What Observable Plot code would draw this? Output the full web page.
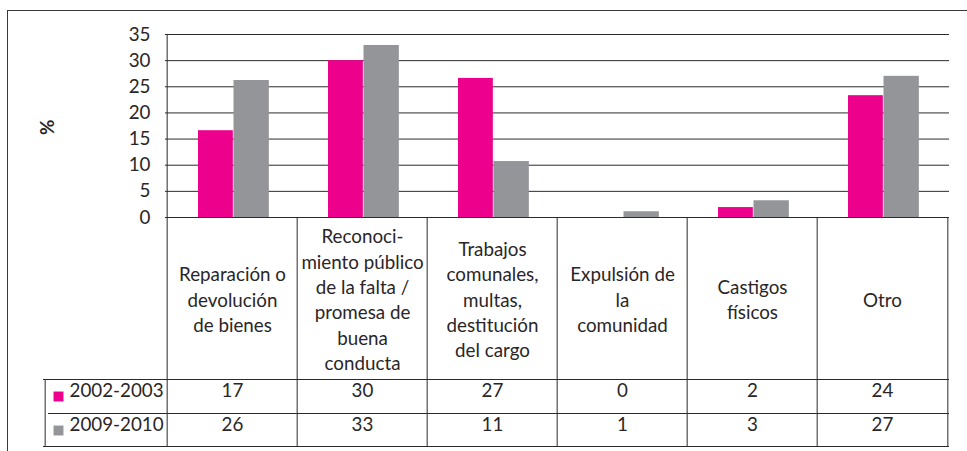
<!DOCTYPE html>
<html><head><meta charset="utf-8">
<script src="https://cdn.jsdelivr.net/npm/d3@7"></script>
<script src="https://cdn.jsdelivr.net/npm/@observablehq/plot@0.6"></script>
<style>
body{margin:0;background:#fff;}
#wrap{position:relative;width:967px;height:451px;overflow:hidden;}
#border{position:absolute;left:7px;top:10px;width:2000px;height:2000px;border-left:1.5px solid #3a3a3a;border-top:1.5px solid #3a3a3a;pointer-events:none;}
</style></head><body>
<div id="wrap"><div id="chart"></div><div id="border"></div></div>
<script>
const categories = ["Reparación o\ndevolución\nde bienes", "Reconoci-\nmiento público\nde la falta /\npromesa de\nbuena\nconducta", "Trabajos\ncomunales,\nmultas,\ndestitución\ndel cargo", "Expulsión de\nla\ncomunidad", "Castigos\nfísicos", "Otro"];
const series = ["2002-2003", "2009-2010"];
const values2002 = [16.6, 30.0, 26.6, 0, 1.9, 23.3];
const values2009 = [26.2, 32.9, 10.7, 1.1, 3.2, 27.0];
const table2002 = ["17", "30", "27", "0", "2", "24"];
const table2009 = ["26", "33", "11", "1", "3", "27"];
const yTicks = [0, 5, 10, 15, 20, 25, 30, 35];
const colors = ["#EC008C", "#939598"];

const W = 967, H = 451, mL = 165, mR = 18, mT = 34, mB = 234;
const bw = (W - mL - mR) / categories.length;
const line = "#2b2b2b";
const fs = 18.8;
const txt = "#2a2627";

const chart = Plot.plot({
  width: W, height: H,
  marginLeft: mL, marginRight: mR, marginTop: mT, marginBottom: mB,
  style: {fontFamily: "Lato", fontSize: fs + "px", color: txt, background: "transparent"},
  x: {domain: categories, padding: 0, axis: null},
  y: {domain: [0, 35], ticks: yTicks, tickSize: 0, tickPadding: 15, label: null},
  marks: [
    Plot.ruleY(yTicks, {stroke: line, strokeWidth: 1}),
    Plot.barY(categories, {x: d => d, y: (d, i) => values2002[i], fill: colors[0], insetLeft: 31, insetRight: bw - 66.5}),
    Plot.barY(categories, {x: d => d, y: (d, i) => values2009[i], fill: colors[1], insetLeft: 66.5, insetRight: bw - 102.5}),
    // table vertical lines
    Plot.ruleX([categories[0]], {x: d => d, dx: -bw / 2, insetBottom: -229, stroke: line}),
    Plot.ruleX(categories.slice(1), {x: d => d, dx: -bw / 2, insetTop: 183, insetBottom: -229, stroke: line}),
    Plot.ruleX([categories[categories.length - 1]], {x: d => d, dx: bw / 2, insetTop: 183, insetBottom: -229, stroke: line}),
    Plot.ruleX([categories[0]], {x: d => d, dx: -bw / 2 - 122, insetTop: 345, insetBottom: -229, stroke: line}),
    // table horizontal lines
    Plot.ruleY([0], {dy: 162, insetLeft: -122, stroke: line}),
    Plot.ruleY([0], {dy: 196, insetLeft: -117, stroke: line}),
    Plot.ruleY([0], {dy: 229, insetLeft: -122, stroke: line}),
    // category labels
    Plot.text(categories, {x: d => d, text: d => d, frameAnchor: "bottom", dy: 81, lineAnchor: "middle", lineHeight: 25.4 / fs, fill: txt}),
    // table values
    Plot.text(categories, {x: d => d, text: (d, i) => table2002[i], frameAnchor: "bottom", dy: 179, fill: txt}),
    Plot.text(categories, {x: d => d, text: (d, i) => table2009[i], frameAnchor: "bottom", dy: 213, fill: txt}),
    // legend in table
    Plot.dot([series[0]], {frameAnchor: "bottom-left", dx: -107, dy: 179, symbol: "square", r: 5.6, fill: colors[0], stroke: null}),
    Plot.dot([series[1]], {frameAnchor: "bottom-left", dx: -107, dy: 213, symbol: "square", r: 5.6, fill: colors[1], stroke: null}),
    Plot.text([series[0]], {text: d => d, frameAnchor: "bottom-left", dx: -96, dy: 179, textAnchor: "start", fill: txt}),
    Plot.text([series[1]], {text: d => d, frameAnchor: "bottom-left", dx: -96, dy: 213, textAnchor: "start", fill: txt}),
    // y label
    Plot.text(["%"], {text: d => d, frameAnchor: "left", dx: -118, dy: 9, rotate: -90, fontWeight: "bold", fill: txt})
  ]
});
document.getElementById("chart").appendChild(chart);
</script>
</body></html>
